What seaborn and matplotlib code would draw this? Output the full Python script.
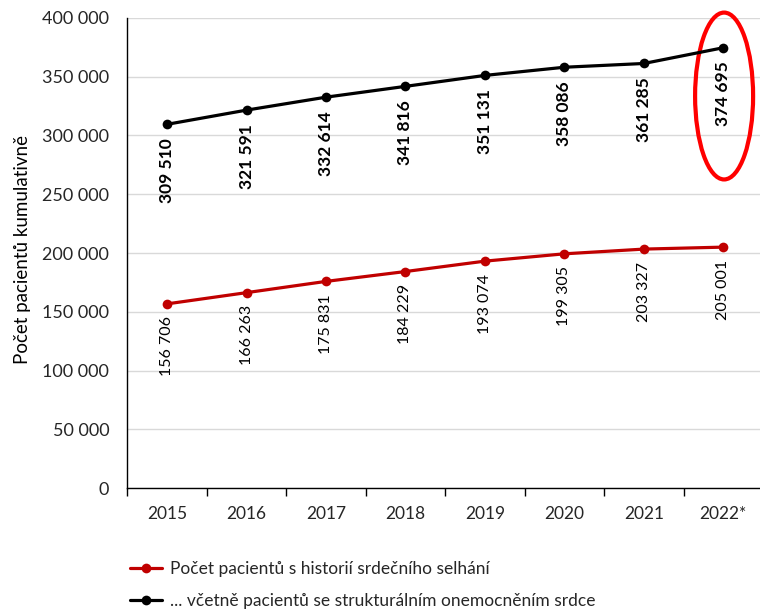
import matplotlib
matplotlib.use("Agg")
import matplotlib.pyplot as plt
from matplotlib.patches import Ellipse
from matplotlib.ticker import FuncFormatter, FixedLocator
import seaborn as sns
import pandas as pd

# Data
years = ["2015", "2016", "2017", "2018", "2019", "2020", "2021", "2022*"]
heart_failure = [156706, 166263, 175831, 184229, 193074, 199305, 203327, 205001]
incl_structural = [309510, 321591, 332614, 341816, 351131, 358086, 361285, 374695]
series_names = [
    "Počet pacientů s historií srdečního selhání",
    "... včetně pacientů se strukturálním onemocněním srdce",
]
y_label = "Počet pacientů kumulativně"

sns.set_theme(style="white")
plt.rcParams["font.family"] = ["Lato", "DejaVu Sans"]
plt.rcParams["text.color"] = "#262626"

df = pd.DataFrame({
    "pos": list(range(len(years))) * 2,
    "value": heart_failure + incl_structural,
    "series": [series_names[0]] * len(years) + [series_names[1]] * len(years),
})
palette = {series_names[0]: "#C00000", series_names[1]: "#000000"}

fig = plt.figure(figsize=(7.6, 6.12), dpi=100)
ax = fig.add_axes([0.1675, 0.2026, 0.8365, 0.768])

sns.lineplot(data=df, x="pos", y="value", hue="series", palette=palette,
             marker="o", markersize=7, markeredgewidth=0, linewidth=2.3,
             ax=ax, legend=False)

ax.set_xlim(-0.5, len(years) - 0.5)
ax.set_ylim(0, 400000)

# grid and spines
ax.yaxis.set_major_locator(FixedLocator(range(0, 400001, 50000)))
ax.grid(axis="y", color="#d9d9d9", linewidth=1.0)
ax.grid(axis="x", visible=False)
ax.set_axisbelow(True)
for side in ["top", "right"]:
    ax.spines[side].set_visible(False)
for side in ["left", "bottom"]:
    ax.spines[side].set_color("#000000")
    ax.spines[side].set_linewidth(1.0)

fmt = FuncFormatter(lambda v, p: f"{int(v):,}".replace(",", " "))
ax.yaxis.set_major_formatter(fmt)
ax.tick_params(axis="y", length=0, pad=13, labelsize=13, labelcolor="#262626")

ax.set_xticks(range(len(years)))
ax.set_xticklabels(years)
ax.set_xticks([i - 0.5 for i in range(len(years) + 1)], minor=True)
ax.tick_params(axis="x", which="major", length=0, pad=13, labelsize=12.5,
               labelcolor="#262626")
ax.tick_params(axis="x", which="minor", length=6, width=1, color="#000000",
               direction="out", bottom=True)
ax.set_xlabel("")
ax.set_ylabel("")

fig.text(23 / 760, 1 - 250 / 612, y_label, rotation=90, ha="center",
         va="center", fontsize=13.5, color="#000000")

# value labels
def lab(v):
    return f"{v:,}".replace(",", " ")

for i, v in enumerate(incl_structural):
    ax.annotate(lab(v), (i, v), xytext=(0, -10), textcoords="offset points",
                rotation=90, ha="center", va="top", fontsize=12.5,
                fontweight="bold", color="#000000")
for i, v in enumerate(heart_failure):
    ax.annotate(lab(v), (i, v), xytext=(0, -9), textcoords="offset points",
                rotation=90, ha="center", va="top", fontsize=11.5,
                color="#000000")

# highlight of the last value
ax.add_patch(Ellipse((7.01, 333600), 0.73, 142000, fill=False,
                     edgecolor="#FF0000", linewidth=3, clip_on=False))

# legend
handles = [
    plt.Line2D([], [], color="#C00000", linewidth=2.3, marker="o",
               markersize=7, markeredgewidth=0),
    plt.Line2D([], [], color="#000000", linewidth=2.3, marker="o",
               markersize=7, markeredgewidth=0),
]
fig.legend(handles, series_names, loc="upper left",
           bbox_to_anchor=(130 / 760, 1 - 561 / 612), frameon=False,
           fontsize=12.5, handlelength=1.85, handletextpad=0.45,
           labelspacing=0.9, borderaxespad=0, borderpad=0)

fig.savefig("out.png", dpi=100)
